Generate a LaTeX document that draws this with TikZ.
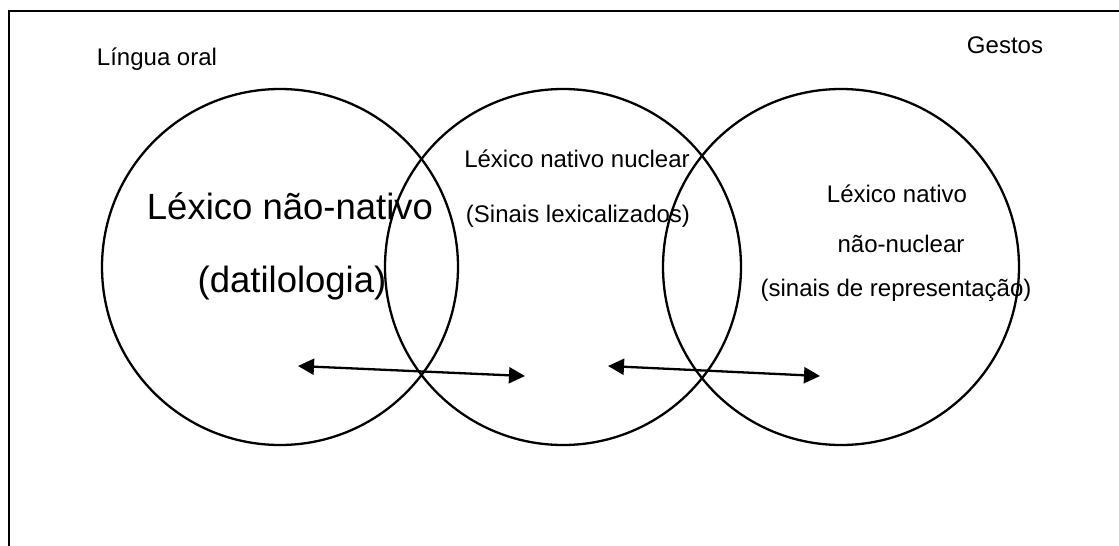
\documentclass[tikz,border=0pt]{standalone}
\usepackage{fontspec}
\setmainfont{Liberation Sans}
\usetikzlibrary{arrows.meta}

\begin{document}
\begin{tikzpicture}[x=1pt,y=-1pt,
  campo/.style={circle,draw,line width=2.3pt,minimum size=356pt,inner sep=0pt},
  rotulo/.style={anchor=base,inner sep=0pt,font=\fontsize{24}{29}\selectfont},
  grande/.style={anchor=base,inner sep=0pt,font=\fontsize{36.5}{44}\selectfont},
  seta/.style={{Triangle[length=16pt,width=16pt]}-{Triangle[length=16pt,width=16pt]},line width=2.3pt}]
  \useasboundingbox (0,0) rectangle (1119,546);
  % moldura
  \draw[line width=2.6pt] (9,546) -- (9,11) -- (1119,11);
  % os tres campos
  \node[campo] (oral) at (280,267) {};
  \node[campo] (nuclear) at (563,267) {};
  \node[campo] (gestos) at (841,267) {};
  % titulos
  \node[rotulo] (t-oral) at (157,65) {Língua oral};
  \node[rotulo] (t-gestos) at (1005,53) {Gestos};
  % textos dos campos
  \node[grande] (nn1) at (290,219) {Léxico não-nativo};
  \node[grande] (nn2) at (292,292) {(datilologia)};
  \node[rotulo] (nu1) at (577,167) {Léxico nativo nuclear};
  \node[rotulo] (nu2) at (578,222) {(Sinais lexicalizados)};
  \node[rotulo] (rp1) at (897,202) {Léxico nativo};
  \node[rotulo] (rp2) at (901,252) {não-nuclear};
  \node[rotulo] (rp3) at (896,296) {(sinais de representação)};
  % setas
  \coordinate (a1) at (298,366);
  \coordinate (b1) at (525,376);
  \coordinate (a2) at (608,366);
  \coordinate (b2) at (820,376);
  \draw[seta] (a1) -- (b1);
  \draw[seta] (a2) -- (b2);
\end{tikzpicture}
\end{document}
